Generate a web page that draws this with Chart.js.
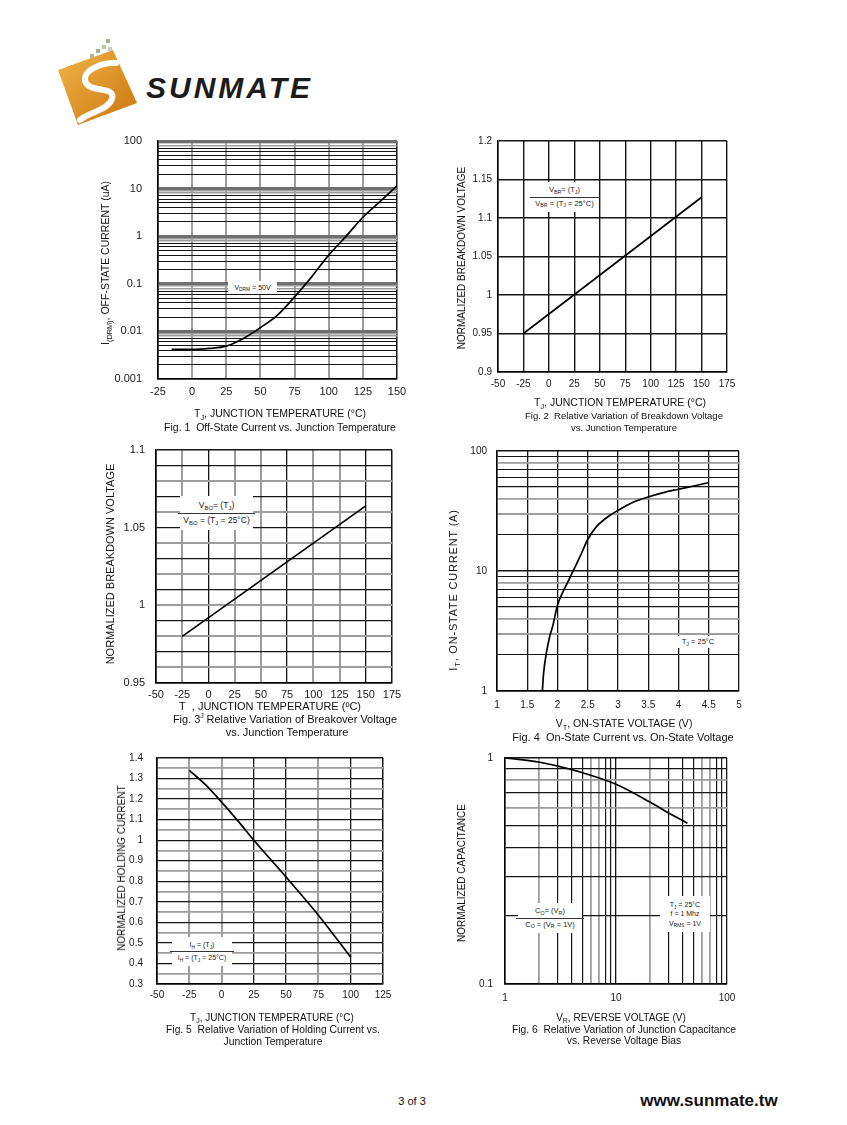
<!DOCTYPE html>
<html>
<head>
<meta charset="utf-8">
<script src="https://cdn.jsdelivr.net/npm/chart.js@4.4.1/dist/chart.umd.min.js"></script>
<style>
  html,body{margin:0;padding:0;background:#fff;}
  body{width:847px;height:1125px;position:relative;overflow:hidden;font-family:'Liberation Sans',Arial,sans-serif;color:#111;}
  canvas{position:absolute;}
  .c{position:absolute;transform:translate(-50%,-50%);white-space:nowrap;line-height:1;}
  .r{position:absolute;transform:translate(-50%,-50%) rotate(-90deg);white-space:nowrap;line-height:1;}
  sub{font-size:0.7em;vertical-align:baseline;position:relative;top:0.35em;line-height:0;}
  .box{position:absolute;background:#fff;display:flex;flex-direction:column;align-items:center;justify-content:center;white-space:nowrap;line-height:1.1;color:#222;}
  .num{border-bottom:0.8px solid #333;padding:0 6px 2px 6px;width:88%;text-align:center;}
  .den{padding-top:2px;text-align:center;}
</style>
</head>
<body>

<!-- logo -->
<svg style="position:absolute;left:50px;top:36px" width="110" height="100" viewBox="0 0 110 100">
  <defs>
    <linearGradient id="og" x1="0" y1="0" x2="1" y2="1">
      <stop offset="0" stop-color="#f2b548"/>
      <stop offset="1" stop-color="#c9760e"/>
    </linearGradient>
  </defs>
  <polygon points="8,34 63,14 87,67 28,89" fill="url(#og)"/>
  <path d="M66,27 C50,26 30,36 36,47 C42,57 66,50 62,63 C58,74 40,76 30,84" fill="none" stroke="#fff" stroke-width="6" stroke-linecap="round"/>
  <rect x="46" y="13" width="4" height="4" fill="#9cb48a"/>
  <rect x="52" y="9" width="4" height="4" fill="#b9c9a6"/>
  <rect x="56" y="3" width="4" height="4" fill="#9cb48a"/>
  <rect x="58" y="11" width="4" height="4" fill="#c7cfc0"/>
  <rect x="40" y="18" width="4" height="4" fill="#a8b8a0"/>
</svg>
<div style="position:absolute;left:146px;top:73px;font:italic bold 30px 'Liberation Sans',Arial,sans-serif;letter-spacing:3px;color:#1c1c1c;line-height:1;">SUNMATE</div>

<canvas id="c1"></canvas>
<canvas id="c2"></canvas>
<canvas id="c3"></canvas>
<canvas id="c4"></canvas>
<canvas id="c5"></canvas>
<canvas id="c6"></canvas>

<!-- Fig 1 texts -->
<div class="r" style="left:105px;top:263px;font-size:10.5px;">I<sub>(DRM)</sub>, OFF-STATE CURRENT (uA)</div>
<div class="c" style="left:280px;top:413px;font-size:10.5px;">T<sub>J</sub>, JUNCTION TEMPERATURE (°C)</div>
<div class="c" style="left:280px;top:427px;font-size:10.5px;">Fig. 1&nbsp; Off-State Current vs. Junction Temperature</div>
<div class="box" style="left:228px;top:281px;width:49px;height:13px;font-size:7px;"><div>V<sub>DRM</sub> = 50V</div></div>

<!-- Fig 2 texts -->
<div class="r" style="left:462px;top:258px;font-size:10px;">NORMALIZED BREAKDOWN VOLTAGE</div>
<div class="c" style="left:620px;top:402px;font-size:10.5px;">T<sub>J</sub>, JUNCTION TEMPERATURE (°C)</div>
<div class="c" style="left:624px;top:416px;font-size:9.5px;">Fig. 2&nbsp; Relative Variation of Breakdown Voltage</div>
<div class="c" style="left:624px;top:428px;font-size:9.5px;">vs. Junction Temperature</div>
<div class="box" style="left:532px;top:182px;width:65px;height:30px;font-size:7.5px;">
  <div class="num">V<sub>BR</sub>= (T<sub>J</sub>)</div>
  <div class="den">V<sub>BR</sub> = (T<sub>J</sub> = 25°C)</div>
</div>

<!-- Fig 3 texts -->
<div class="r" style="left:110px;top:564px;font-size:11px;">NORMALIZED BREAKDOWN VOLTAGE</div>
<div class="c" style="left:270px;top:706px;font-size:11px;">T&nbsp;&nbsp;, JUNCTION TEMPERATURE (ºC)</div>
<div class="c" style="left:202px;top:715px;font-size:7px;">J</div>
<div class="c" style="left:285px;top:719px;font-size:11px;">Fig. 3&nbsp;&nbsp;Relative Variation of Breakover Voltage</div>
<div class="c" style="left:287px;top:732px;font-size:11px;">vs. Junction Temperature</div>
<div class="box" style="left:180px;top:496px;width:73px;height:34px;font-size:8.5px;">
  <div class="num">V<sub>BO</sub>= (T<sub>J</sub>)</div>
  <div class="den">V<sub>BO</sub> = (T<sub>J</sub> = 25°C)</div>
</div>

<!-- Fig 4 texts -->
<div class="r" style="left:453px;top:590px;font-size:11px;letter-spacing:0.8px;">I<sub>T</sub>, ON-STATE CURRENT (A)</div>
<div class="c" style="left:624px;top:723px;font-size:10.5px;">V<sub>T</sub>, ON-STATE VOLTAGE (V)</div>
<div class="c" style="left:623px;top:737px;font-size:11px;">Fig. 4&nbsp; On-State Current vs. On-State Voltage</div>
<div class="box" style="left:676px;top:636px;width:44px;height:12px;font-size:7.5px;"><div>T<sub>J</sub> = 25°C</div></div>

<!-- Fig 5 texts -->
<div class="r" style="left:122px;top:868px;font-size:10px;">NORMALIZED HOLDING CURRENT</div>
<div class="c" style="left:272px;top:1018px;font-size:10px;">T<sub>J</sub>, JUNCTION TEMPERATURE (°C)</div>
<div class="c" style="left:273px;top:1030px;font-size:10.3px;">Fig. 5&nbsp; Relative Variation of Holding Current vs.</div>
<div class="c" style="left:273px;top:1042px;font-size:10.3px;">Junction Temperature</div>
<div class="box" style="left:172px;top:937px;width:60px;height:29px;font-size:7px;">
  <div class="num">I<sub>H</sub> = (T<sub>J</sub>)</div>
  <div class="den">I<sub>H</sub> = (T<sub>J</sub> = 25°C)</div>
</div>

<!-- Fig 6 texts -->
<div class="r" style="left:462px;top:873px;font-size:10px;">NORMALIZED CAPACITANCE</div>
<div class="c" style="left:621px;top:1018px;font-size:10px;">V<sub>R</sub>, REVERSE VOLTAGE (V)</div>
<div class="c" style="left:624px;top:1030px;font-size:10.3px;">Fig. 6&nbsp; Relative Variation of Junction Capacitance</div>
<div class="c" style="left:624px;top:1041px;font-size:10.3px;">vs. Reverse Voltage Bias</div>
<div class="box" style="left:518px;top:903px;width:64px;height:30px;font-size:7.5px;">
  <div class="num">C<sub>O</sub>= (V<sub>R</sub>)</div>
  <div class="den">C<sub>O</sub> = (V<sub>R</sub> = 1V)</div>
</div>
<div class="box" style="left:660px;top:896px;width:50px;height:36px;font-size:7px;line-height:1.35;">
  <div>T<sub>J</sub> = 25°C</div>
  <div>f = 1 Mhz</div>
  <div>V<sub>RMS</sub> = 1V</div>
</div>

<!-- footer -->
<div class="c" style="left:412px;top:1101px;font-size:11px;">3 of 3</div>
<div class="c" style="left:709px;top:1100px;font-size:17px;font-weight:bold;">www.sunmate.tw</div>

<script>
// ---------- DATA ----------
// Fig. 1 Off-state current vs junction temperature
const fig1Temp    = [-15, 0, 12.5, 25, 37.5, 50, 62.5, 75, 87.5, 100, 112.5, 125, 137.5, 150];
const fig1Current = [0.0042, 0.0042, 0.0044, 0.0049, 0.0071, 0.012, 0.022, 0.053, 0.14, 0.40, 0.98, 2.5, 5.3, 11.4];
const fig1XTicks  = [-25, 0, 25, 50, 75, 100, 125, 150];
const fig1XLabels = ['-25', '0', '25', '50', '75', '100', '125', '150'];
const fig1YLabelValues = [0.001, 0.01, 0.1, 1, 10, 100];
const fig1YLabels = ['0.001', '0.01', '0.1', '1', '10', '100'];

// Fig. 2 Breakdown voltage
const fig2Temp  = [-25, 150];
const fig2Volt  = [0.95, 1.127];
const fig2XTicks  = [-50, -25, 0, 25, 50, 75, 100, 125, 150, 175];
const fig2XLabels = ['-50', '-25', '0', '25', '50', '75', '100', '125', '150', '175'];
const fig2YTicks  = [0.9, 0.95, 1, 1.05, 1.1, 1.15, 1.2];
const fig2YLabels = ['0.9', '0.95', '1', '1.05', '1.1', '1.15', '1.2'];

// Fig. 3 Breakover voltage
const fig3Temp  = [-25, 150];
const fig3Volt  = [0.98, 1.064];
const fig3XTicks  = [-50, -25, 0, 25, 50, 75, 100, 125, 150, 175];
const fig3XLabels = ['-50', '-25', '0', '25', '50', '75', '100', '125', '150', '175'];
const fig3YTicks  = [0.95, 0.96, 0.97, 0.98, 0.99, 1, 1.01, 1.02, 1.03, 1.04, 1.05, 1.06, 1.07, 1.08, 1.09, 1.1];
const fig3YLabelValues = [0.95, 1, 1.05, 1.1];
const fig3YLabels = ['0.95', '1', '1.05', '1.1'];

// Fig. 4 On-state current vs on-state voltage
const fig4Volt    = [1.75, 1.77, 1.815, 1.87, 1.925, 2.0, 2.09, 2.2, 2.37, 2.5, 2.64, 2.8, 2.9, 3.0, 3.25, 3.5, 3.75, 4.0, 4.25, 4.5];
const fig4Current = [1, 1.4, 2.06, 2.83, 3.54, 5.2, 6.7, 8.7, 13.1, 18.3, 23.3, 27.5, 29.8, 32.0, 37.4, 41.4, 45, 48, 51.1, 54.5];
const fig4XTicks  = [1, 1.5, 2, 2.5, 3, 3.5, 4, 4.5, 5];
const fig4XLabels = ['1', '1.5', '2', '2.5', '3', '3.5', '4', '4.5', '5'];
const fig4YLabelValues = [1, 10, 100];
const fig4YLabels = ['1', '10', '100'];

// Fig. 5 Holding current
const fig5Temp = [-25, -12.5, 0, 12.5, 25, 50, 75, 100];
const fig5Hold = [1.34, 1.27, 1.185, 1.095, 1.0, 0.82, 0.635, 0.43];
const fig5XTicks  = [-50, -25, 0, 25, 50, 75, 100, 125];
const fig5XLabels = ['-50', '-25', '0', '25', '50', '75', '100', '125'];
const fig5YTicks  = [0.3, 0.35, 0.4, 0.45, 0.5, 0.55, 0.6, 0.65, 0.7, 0.75, 0.8, 0.85, 0.9, 0.95, 1, 1.05, 1.1, 1.15, 1.2, 1.25, 1.3, 1.35, 1.4];
const fig5YLabelValues = [0.3, 0.4, 0.5, 0.6, 0.7, 0.8, 0.9, 1, 1.1, 1.2, 1.3, 1.4];
const fig5YLabels = ['0.3', '0.4', '0.5', '0.6', '0.7', '0.8', '0.9', '1', '1.1', '1.2', '1.3', '1.4'];

// Fig. 6 Junction capacitance
const fig6Volt = [1, 2, 3, 5, 10, 20, 30, 44];
const fig6Cap  = [1.0, 0.96, 0.92, 0.86, 0.765, 0.64, 0.57, 0.515];
const fig6XLabelValues = [1, 10, 100];
const fig6XLabels = ['1', '10', '100'];
const fig6YLabelValues = [0.1, 1];
const fig6YLabels = ['0.1', '1'];

// ---------- HELPERS ----------
const FONT = "'Liberation Sans', Arial, sans-serif";
const K = '#151515', G = '#9d9d9d';
const near = (a, b) => Math.abs(a - b) <= Math.abs(b) * 1e-6 + 1e-9;
function labeler(vals, labels) {
  return v => { const i = vals.findIndex(u => near(v, u)); return i < 0 ? '' : labels[i]; };
}
function logGrid(min, max) {
  const out = [];
  for (let e = Math.floor(Math.log10(min)); e <= Math.ceil(Math.log10(max)); e++) {
    for (let m = 1; m <= 9; m++) {
      const v = parseFloat((m * Math.pow(10, e)).toPrecision(6));
      if (v >= min * 0.9999 && v <= max * 1.0001) out.push(v);
    }
  }
  return out;
}
function mant(v) { return Math.round(v / Math.pow(10, Math.floor(Math.log10(v) + 1e-9))); }

function axis(o, XH, YW, isX) {
  const a = o;
  return {
    type: a.type, min: a.min, max: a.max, position: isX ? 'bottom' : 'left',
    afterBuildTicks: s => { s.ticks = a.grid.map(v => ({ value: v })); },
    afterFit: s => { if (isX) s.height = XH; else s.width = YW; },
    ticks: {
      autoSkip: false, maxRotation: 0, minRotation: 0, padding: a.pad, color: '#1a1a1a',
      font: { size: a.size, family: FONT },
      callback: (v, i, ticks) => a.label(ticks[i] ? ticks[i].value : v)
    },
    grid: {
      drawTicks: false,
      color: ctx => { const v = ctx.tick ? ctx.tick.value : null; return v === null ? K : a.style(v)[0]; },
      lineWidth: ctx => { const v = ctx.tick ? ctx.tick.value : null; return v === null ? 1 : a.style(v)[1]; }
    },
    border: { color: '#000', width: 1.5 }
  };
}

function build(id, box, xs, ys, xo, yo, mode) {
  const YW = 50, PT = 32, PR = 32, XH = 34;
  const cv = document.getElementById(id);
  const W = box.r - box.l + YW + PR, H = box.b - box.t + PT + XH;
  cv.width = W; cv.height = H;
  cv.style.left = (box.l - YW) + 'px'; cv.style.top = (box.t - PT) + 'px';
  cv.style.width = W + 'px'; cv.style.height = H + 'px';
  return new Chart(cv, {
    type: 'line',
    data: { datasets: [{
      data: xs.map((x, i) => ({ x: x, y: ys[i] })),
      borderColor: '#000', borderWidth: 1.7, pointRadius: 0, fill: false,
      tension: mode ? 0.4 : 0, cubicInterpolationMode: mode ? 'monotone' : 'default'
    }] },
    options: {
      responsive: false, animation: false, events: [],
      layout: { padding: { left: 0, top: PT, right: PR, bottom: 0 } },
      plugins: { legend: { display: false }, tooltip: { enabled: false } },
      scales: { x: axis(xo, XH, YW, true), y: axis(yo, XH, YW, false) }
    }
  });
}

// ---------- CHARTS ----------
// Fig 1
build('c1', { l: 158, t: 141, r: 397, b: 379 }, fig1Temp, fig1Current,
  { type: 'linear', min: -25, max: 150, grid: fig1XTicks, pad: 6, size: 11,
    label: labeler(fig1XTicks, fig1XLabels),
    style: v => (near(v, -25) || near(v, 150)) ? [K, 1.5] : [G, 2] },
  { type: 'logarithmic', min: 0.001, max: 100, grid: logGrid(0.001, 100), pad: 16, size: 11,
    label: labeler(fig1YLabelValues, fig1YLabels),
    style: v => { const m = mant(v); if (m === 1) return near(v, 0.001) ? [K, 1.5] : ['#6f6f6f', 3]; if (m === 9 || m === 8) return [G, 1.6]; return [K, 1]; } },
  true);

// Fig 2
build('c2', { l: 498, t: 141, r: 727, b: 372 }, fig2Temp, fig2Volt,
  { type: 'linear', min: -50, max: 175, grid: fig2XTicks, pad: 6, size: 10,
    label: labeler(fig2XTicks, fig2XLabels), style: v => [K, 1.4] },
  { type: 'linear', min: 0.9, max: 1.2, grid: fig2YTicks, pad: 6, size: 10,
    label: labeler(fig2YTicks, fig2YLabels), style: v => [K, 1.4] },
  false);

// Fig 3
const fig3VStyle = { '-50': [K, 1.5], '-25': [G, 2], '0': [K, 1.3], '25': [G, 2], '50': [G, 2], '75': [K, 1.3], '100': [G, 2], '125': [G, 2], '150': [K, 1.3], '175': [K, 1.5] };
build('c3', { l: 156, t: 450, r: 392, b: 683 }, fig3Temp, fig3Volt,
  { type: 'linear', min: -50, max: 175, grid: fig3XTicks, pad: 5, size: 11,
    label: labeler(fig3XTicks, fig3XLabels), style: v => fig3VStyle[String(Math.round(v))] || [K, 1.3] },
  { type: 'linear', min: 0.95, max: 1.1, grid: fig3YTicks, pad: 11, size: 11,
    label: labeler(fig3YLabelValues, fig3YLabels),
    style: v => { const i = Math.round((v - 0.95) * 100); if (i === 0 || i === 15) return [K, 1.5]; return i % 2 ? [G, 2] : [K, 1.3]; } },
  false);

// Fig 4
const fig4HStyle = { 1: [K, 1.4], 2: [K, 1.1], 3: [G, 2], 4: [G, 1.8], 5: [K, 1.3], 6: [K, 1.1], 7: [K, 1.1], 8: [G, 1.8], 9: [K, 1.1] };
build('c4', { l: 497, t: 451, r: 739, b: 691 }, fig4Volt, fig4Current,
  { type: 'linear', min: 1, max: 5, grid: fig4XTicks, pad: 8, size: 10,
    label: labeler(fig4XTicks, fig4XLabels), style: v => [K, 1.3] },
  { type: 'logarithmic', min: 1, max: 100, grid: logGrid(1, 100), pad: 10, size: 10,
    label: labeler(fig4YLabelValues, fig4YLabels), style: v => fig4HStyle[mant(v)] || [K, 1] },
  true);

// Fig 5
const fig5VStyle = { '-50': [K, 1.5], '-25': [G, 2], '0': [G, 2], '25': [K, 1.3], '50': [K, 1.3], '75': [G, 2], '100': [K, 1.3], '125': [K, 1.5] };
build('c5', { l: 157, t: 758, r: 383, b: 984 }, fig5Temp, fig5Hold,
  { type: 'linear', min: -50, max: 125, grid: fig5XTicks, pad: 5, size: 10,
    label: labeler(fig5XTicks, fig5XLabels), style: v => fig5VStyle[String(Math.round(v))] || [K, 1.3] },
  { type: 'linear', min: 0.3, max: 1.4, grid: fig5YTicks, pad: 14, size: 10,
    label: labeler(fig5YLabelValues, fig5YLabels),
    style: v => { const i = Math.round((v - 0.3) * 20); if (i === 0 || i === 22) return [K, 1.5]; return i % 2 ? [G, 1.8] : [K, 1.3]; } },
  true);

// Fig 6
const fig6VStyle = { 1: [K, 1.3], 2: [G, 1.8], 3: [K, 1.2], 4: [K, 1.2], 5: [K, 1.2], 6: [G, 1.8], 7: [G, 1.8], 8: [K, 1.2], 9: [K, 1.2] };
const fig6HStyle = { 1: [K, 1.4], 2: [K, 1.2], 3: [K, 1.2], 4: [K, 1.2], 5: [K, 1.2], 6: [G, 1.8], 7: [K, 1.2], 8: [G, 1.8], 9: [K, 1.2] };
build('c6', { l: 505, t: 758, r: 727, b: 984 }, fig6Volt, fig6Cap,
  { type: 'logarithmic', min: 1, max: 100, grid: logGrid(1, 100), pad: 8, size: 10,
    label: labeler(fig6XLabelValues, fig6XLabels), style: v => fig6VStyle[mant(v)] || [K, 1] },
  { type: 'logarithmic', min: 0.1, max: 1, grid: logGrid(0.1, 1), pad: 12, size: 10,
    label: labeler(fig6YLabelValues, fig6YLabels), style: v => fig6HStyle[mant(v)] || [K, 1] },
  true);
</script>
</body>
</html>
